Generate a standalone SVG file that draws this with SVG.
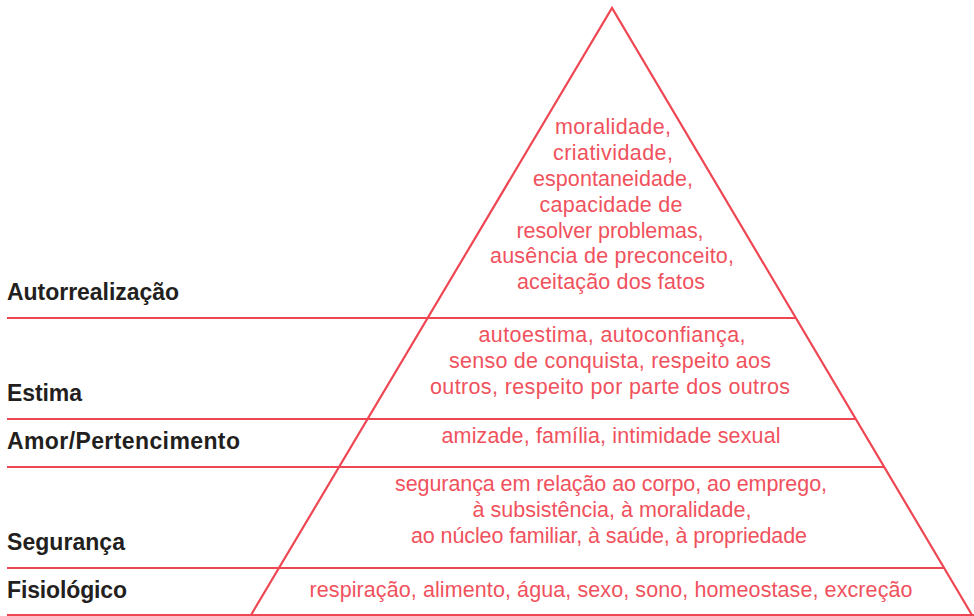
<svg xmlns="http://www.w3.org/2000/svg" width="974" height="616" viewBox="0 0 974 616">
  <style>
    .ln { stroke: #ef4653; stroke-width: 2.2; fill: none; stroke-linejoin: miter; }
    .lbl { font-family: "Liberation Sans", Arial, sans-serif; font-weight: bold; font-size: 23px; fill: #231f20; }
    .txt { font-family: "Liberation Sans", Arial, sans-serif; font-size: 21.5px; fill: #f0525d; text-anchor: middle; }
  </style>
  <rect width="974" height="616" fill="#ffffff"/>
  <g id="connectors">
    <path class="ln" d="M251,615 L612,8 L972,615"/>
    <line class="ln" x1="7" y1="318" x2="796" y2="318"/>
    <line class="ln" x1="7" y1="419" x2="856" y2="419"/>
    <line class="ln" x1="7" y1="467" x2="884" y2="467"/>
    <line class="ln" x1="7" y1="568" x2="945" y2="568"/>
    <line class="ln" x1="7" y1="615" x2="974" y2="615"/>
  </g>
  <g id="autorrealizacao">
    <text class="lbl" x="7" y="300" textLength="172">Autorrealização</text>
    <text class="txt" x="613" y="134" textLength="116">moralidade,</text>
    <text class="txt" x="613" y="160" textLength="120">criatividade,</text>
    <text class="txt" x="613" y="186" textLength="160">espontaneidade,</text>
    <text class="txt" x="611" y="212" textLength="143">capacidade de</text>
    <text class="txt" x="610" y="238" textLength="187">resolver problemas,</text>
    <text class="txt" x="612" y="263" textLength="244">ausência de preconceito,</text>
    <text class="txt" x="611" y="289" textLength="188">aceitação dos fatos</text>
  </g>
  <g id="estima">
    <text class="lbl" x="7" y="401" textLength="75">Estima</text>
    <text class="txt" x="612" y="342" textLength="267">autoestima, autoconfiança,</text>
    <text class="txt" x="610" y="368" textLength="322">senso de conquista, respeito aos</text>
    <text class="txt" x="610" y="394" textLength="360">outros, respeito por parte dos outros</text>
  </g>
  <g id="amor">
    <text class="lbl" x="7" y="449" textLength="233">Amor/Pertencimento</text>
    <text class="txt" x="611" y="443" textLength="339">amizade, família, intimidade sexual</text>
  </g>
  <g id="seguranca">
    <text class="lbl" x="7" y="550" textLength="118">Segurança</text>
    <text class="txt" x="611" y="491" textLength="432">segurança em relação ao corpo, ao emprego,</text>
    <text class="txt" x="612" y="517" textLength="279">à subsistência, à moralidade,</text>
    <text class="txt" x="609" y="543" textLength="396">ao núcleo familiar, à saúde, à propriedade</text>
  </g>
  <g id="fisiologico">
    <text class="lbl" x="7" y="598" textLength="120">Fisiológico</text>
    <text class="txt" x="611" y="597" textLength="603">respiração, alimento, água, sexo, sono, homeostase, excreção</text>
  </g>
</svg>
